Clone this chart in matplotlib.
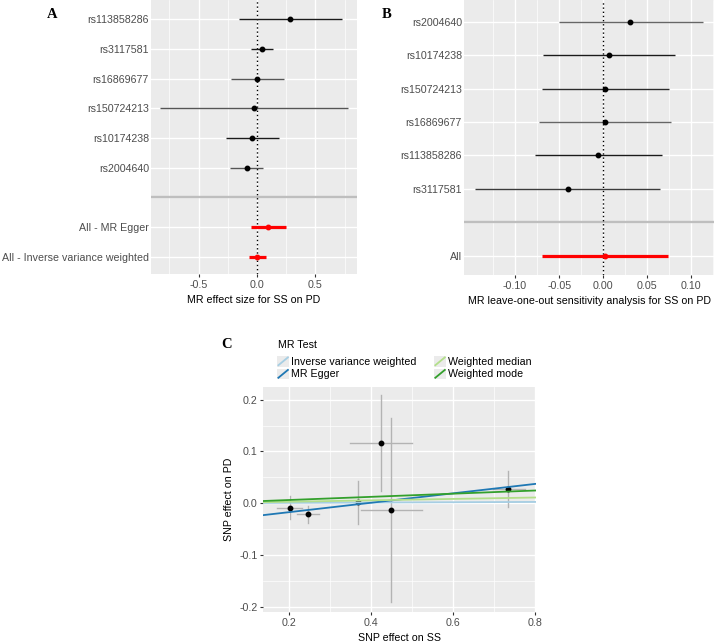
import matplotlib
matplotlib.use("Agg")
import matplotlib.pyplot as plt
import numpy as np
from matplotlib.legend_handler import HandlerBase
from matplotlib.patches import Rectangle
from matplotlib.lines import Line2D

plt.rcParams['font.family'] = ['Liberation Sans', 'DejaVu Sans']
plt.rcParams['axes.unicode_minus'] = False

# ---------------- data ----------------
# Panel A: single-SNP MR estimates (top to bottom)
snps_A = ['rs113858286', 'rs3117581', 'rs16869677', 'rs150724213', 'rs10174238', 'rs2004640']
A_b = [0.286, 0.040, 0.003, -0.026, -0.040, -0.089]
A_lo = [-0.154, -0.054, -0.223, -0.829, -0.263, -0.231]
A_hi = [0.726, 0.134, 0.229, 0.777, 0.186, 0.054]
A_all_labels = ['All - MR Egger', 'All - Inverse variance weighted']
A_all_b = [0.091, 0.003]
A_all_lo = [-0.051, -0.066]
A_all_hi = [0.246, 0.074]
A_xticks = [-0.5, 0.0, 0.5]
A_xticklabels = ['-0.5', '0.0', '0.5']

# Panel B: leave-one-out (top to bottom)
snps_B = ['rs2004640', 'rs10174238', 'rs150724213', 'rs16869677', 'rs113858286', 'rs3117581']
B_b = [0.031, 0.0068, 0.0023, 0.0019, -0.0057, -0.0405]
B_lo = [-0.0504, -0.068, -0.0693, -0.0727, -0.0777, -0.1458]
B_hi = [0.1129, 0.0818, 0.0742, 0.0773, 0.067, 0.0644]
B_all_label = ['All']
B_all_b = [0.0023]
B_all_lo = [-0.0689]
B_all_hi = [0.0735]
B_xticks = [-0.10, -0.05, 0.0, 0.05, 0.10]
B_xticklabels = ['-0.10', '-0.05', '0.00', '0.05', '0.10']

# Panel C: scatter
C_x = [0.2016, 0.2463, 0.3668, 0.4244, 0.4488, 0.7325]
C_y = [-0.0084, -0.0213, 0.002, 0.1161, -0.0129, 0.0271]
C_xlo = [0.1715, 0.2195, 0.364, 0.3496, 0.3748, 0.696]
C_xhi = [0.2325, 0.2732, 0.370, 0.5000, 0.5236, 0.774]
C_ylo = [-0.031, -0.0387, -0.0406, 0.0239, -0.1903, -0.0077]
C_yhi = [0.0148, -0.005, 0.042, 0.2084, 0.1645, 0.0613]
methods = ['Inverse variance weighted', 'MR Egger', 'Weighted median', 'Weighted mode']
method_slope = [0.003, 0.0911, 0.0137, 0.0306]
method_intercept = [0.0, -0.0356, 0.0, 0.0]
C_xticks = [0.2, 0.4, 0.6, 0.8]
C_yticks = [-0.2, -0.1, 0.0, 0.1, 0.2]

# ---------------- styles ----------------
A_line_colors = ['#1a1a1a', '#1a1a1a', '#555555', '#555555', '#1a1a1a', '#555555']
B_line_colors = ['#666666', '#1a1a1a', '#2a2a2a', '#666666', '#1a1a1a', '#3a3a3a']
method_colors = ['#a6cee3', '#1f78b4', '#b2df8a', '#33a02c']
BG = '#ebebeb'
FS = 7.7
TICKC = '#4d4d4d'

W, H = 716, 644
fig = plt.figure(figsize=(W / 100, H / 100), dpi=100)


def ax_px(l, r, t, b):
    return fig.add_axes([l / W, 1 - b / H, (r - l) / W, (b - t) / H])


def style_ax(ax):
    ax.set_facecolor(BG)
    for s in ax.spines.values():
        s.set_visible(False)
    ax.tick_params(axis='both', which='major', length=2.5, width=0.8, color='#333333',
                   labelsize=FS, labelcolor=TICKC, pad=1.5)
    ax.tick_params(axis='both', which='minor', length=0)
    ax.grid(True, which='major', color='white', lw=1.0, zorder=0)
    ax.grid(True, which='minor', color='white', lw=0.5, zorder=0)
    ax.set_axisbelow(True)


def forest(ax, labels, b, lo, hi, colors, all_labels, all_b, all_lo, all_hi,
           xlim, xticks, xticklabels, xlabel):
    n = len(labels)
    m = len(all_labels)
    top = n + m + 1
    y_snp = [top - i for i in range(n)]
    y_sep = m + 1
    y_all = [m - i for i in range(m)]
    style_ax(ax)
    ax.set_xlim(*xlim)
    ax.set_ylim(0.42, top + 0.65)
    ax.set_xticks(xticks)
    ax.set_xticklabels(xticklabels)
    mids = [(xticks[i] + xticks[i + 1]) / 2 for i in range(len(xticks) - 1)]
    step = xticks[1] - xticks[0]
    mids = [xticks[0] - step / 2] + mids + [xticks[-1] + step / 2]
    ax.set_xticks(mids, minor=True)
    ax.set_yticks(y_snp + [y_sep] + y_all)
    ax.set_yticklabels(labels + [''] + all_labels)
    ax.tick_params(axis='y', which='major', length=0)
    ax.axvline(0, color='black', ls=(0, (1, 2)), lw=1.0, zorder=3)
    for yy, bb, l, h, c in zip(y_snp, b, lo, hi, colors):
        ax.plot([l, h], [yy, yy], color=c, lw=1.0, zorder=4, solid_capstyle='butt')
        ax.plot([bb], [yy], 'o', color='black', ms=3.2, zorder=5)
    ax.axhline(y_sep, color='#bebebe', lw=1.7, zorder=2)
    for yy, bb, l, h in zip(y_all, all_b, all_lo, all_hi):
        ax.plot([l, h], [yy, yy], color='#ff0000', lw=2.3, zorder=4, solid_capstyle='butt')
        ax.plot([bb], [yy], 'o', color='#ff0000', ms=3.2, zorder=5)
    ax.set_xlabel(xlabel, fontsize=FS, color='black', labelpad=4)


axA = ax_px(151, 357, 0, 274)
forest(axA, snps_A, A_b, A_lo, A_hi, A_line_colors, A_all_labels, A_all_b, A_all_lo, A_all_hi,
       (-0.908, 0.857), A_xticks, A_xticklabels, 'MR effect size for SS on PD')

axB = ax_px(464, 714, 0, 275)
forest(axB, snps_B, B_b, B_lo, B_hi, B_line_colors, B_all_label, B_all_b, B_all_lo, B_all_hi,
       (-0.158, 0.1258), B_xticks, B_xticklabels, 'MR leave-one-out sensitivity analysis for SS on PD')

# Panel C
axC = ax_px(263, 536, 387, 612)
style_ax(axC)
axC.set_xlim(0.1366, 0.8016)
axC.set_ylim(-0.2103, 0.2245)
axC.set_xticks(C_xticks)
axC.set_xticklabels([f'{v:.1f}' for v in C_xticks])
axC.set_yticks(C_yticks)
axC.set_yticklabels([f'{v:.1f}' for v in C_yticks])
axC.set_xticks([0.3, 0.5, 0.7], minor=True)
axC.set_yticks([-0.15, -0.05, 0.05, 0.15], minor=True)
for x, y, xl, xh, yl, yh in zip(C_x, C_y, C_xlo, C_xhi, C_ylo, C_yhi):
    axC.plot([x, x], [yl, yh], color='#b3b3b3', lw=1.0, zorder=2)
    axC.plot([xl, xh], [y, y], color='#b3b3b3', lw=1.0, zorder=2)
axC.plot(C_x, C_y, 'o', color='black', ms=3.2, zorder=3, ls='none')
xs = np.array(axC.get_xlim())
handles = []
for name, s, ic, col in zip(methods, method_slope, method_intercept, method_colors):
    ln, = axC.plot(xs, ic + s * xs, color=col, lw=1.3, zorder=4, label=name)
    handles.append(ln)
axC.set_xlim(0.1366, 0.8016)
axC.set_xlabel('SNP effect on SS', fontsize=FS, color='black', labelpad=4)
axC.set_ylabel('SNP effect on PD', fontsize=FS, color='black', labelpad=4)


class DiagHandler(HandlerBase):
    def create_artists(self, legend, orig_handle, xdescent, ydescent, width, height, fontsize, trans):
        x0, y0 = -xdescent, -ydescent
        bg = Rectangle((x0, y0), width, height, facecolor=BG, edgecolor='none', transform=trans)
        ln = Line2D([x0 + 1, x0 + width - 1], [y0 + 1, y0 + height - 1], color=orig_handle.get_color(),
                    lw=1.3, transform=trans)
        return [bg, ln]


fig.text(278 / W, 1 - 345 / H, 'MR Test', fontsize=FS, color='black', ha='left', va='center')
leg = fig.legend(handles, methods, ncol=2, loc='upper left',
                 bbox_to_anchor=(277 / W, 1 - 356 / H), frameon=False, fontsize=FS,
                 handler_map={Line2D: DiagHandler()}, handlelength=1.15, handleheight=1.15,
                 handletextpad=0.2, labelspacing=0.15, columnspacing=1.6, borderpad=0,
                 borderaxespad=0)

# Panel letters
serif = ['Liberation Serif', 'DejaVu Serif']
fig.text(52 / W, 1 - 15 / H, 'A', fontsize=10.5, fontweight='bold', family=serif, ha='center', va='center')
fig.text(387 / W, 1 - 15 / H, 'B', fontsize=10.5, fontweight='bold', family=serif, ha='center', va='center')
fig.text(227 / W, 1 - 345 / H, 'C', fontsize=10.5, fontweight='bold', family=serif, ha='center', va='center')

fig.savefig('out.png', dpi=100, facecolor='white')
